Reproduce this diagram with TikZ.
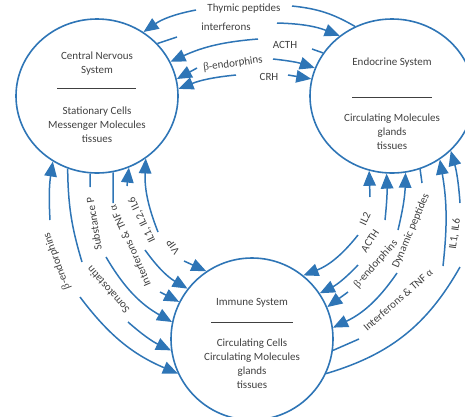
\documentclass[tikz,border=0pt]{standalone}
\usepackage{fontspec}
\setmainfont{Carlito}
\newfontfamily\grk{Liberation Serif}
\usetikzlibrary{arrows.meta,shapes.geometric}
\definecolor{arrowblue}{RGB}{46,117,182}
\definecolor{txt}{RGB}{64,64,64}
\begin{document}
\begin{tikzpicture}[x=1pt,y=-1pt,
  sys/.style={ellipse, draw=arrowblue, line width=1.6pt, inner sep=0pt},
  conn/.style={draw=arrowblue, line width=1.5pt},
  arr/.style={conn, -{Triangle[length=15pt,width=12.5pt]}},
  lbl/.style={text=txt, font=\fontsize{11}{13}\selectfont, inner sep=1pt},
  body/.style={text=txt, font=\fontsize{11}{14}\selectfont, align=center},
  sepline/.style={draw=txt, line width=0.8pt}
]
\useasboundingbox (0,0) rectangle (465,416);

% systems
\node[sys, minimum width=162pt, minimum height=154pt] (cns) at (97,96) {};
\node[sys, minimum width=164pt, minimum height=154pt] (endo) at (392,96) {};
\node[sys, minimum width=162pt, minimum height=162pt] (imm) at (252,339) {};

\node[body] (cnsT) at (97,64) {Central Nervous\\System};
\draw[sepline] (57,88) -- (136,88);
\node[body] (cnsB) at (97,125) {Stationary Cells\\Messenger Molecules\\tissues};

\node[body] (endoT) at (392,63) {Endocrine System};
\draw[sepline] (352,97) -- (432,97);
\node[body] (endoB) at (392,132) {Circulating Molecules\\glands\\tissues};

\node[body] (immT) at (252,303) {Immune System};
\draw[sepline] (211,322) -- (293,322);
\node[body] (immB) at (252,364) {Circulating Cells\\Circulating Molecules\\glands\\tissues};

% ---------- top: CNS <-> Endocrine ----------
\node[lbl] (lT1) at (244,9) {Thymic peptides};
\coordinate (T1a) at (196,10); \coordinate (T1b) at (292,6);
\draw[arr] (T1a) to[bend right=12] (cns.54);
\draw[conn] (T1b) to[bend left=12] (endo.118);

\node[lbl] (lT2) at (226,27) {interferons};
\coordinate (T2a) at (177,37); \coordinate (T2b) at (277,23);
\draw[conn] (cns.41) -- (T2a);
\draw[arr] (T2b) to[bend left=10] (endo.131);

\node[lbl] (lT3) at (285,45) {ACTH};
\coordinate (T3a) at (258,39); \coordinate (T3b) at (312,49);
\draw[arr] (T3a) to[bend right=10] (cns.25);
\draw[conn] (T3b) -- (endo.148);

\node[lbl, rotate=8] (lT4) at (233,64) {{\grk β}-endorphins};
\coordinate (T4a) at (197,68); \coordinate (T4b) at (273,59);
\draw[arr] (T4a) -- (cns.12);
\draw[arr] (T4b) to[bend left=6] (endo.160);

\node[lbl] (lT5) at (269,77) {CRH};
\coordinate (T5a) at (236,75); \coordinate (T5b) at (288,75);
\draw[arr] (T5a) to[bend right=8] (cns.5);
\draw[arr] (T5b) -- (endo.168);

% ---------- bottom left: CNS <-> Immune ----------
\node[lbl, rotate=110] (lL1) at (57,261) {{\grk β}-endorphins};
\coordinate (L1a) at (50,220); \coordinate (L1b) at (80,297);
\draw[arr] (L1a) to[bend left=6] (cns.-124);
\draw[arr] (L1b) to[bend right=15] (imm.205);

\node[lbl, rotate=131] (lL2) at (108,290) {Somatostatin};
\coordinate (L2a) at (82,262); \coordinate (L2b) at (128,322);
\draw[conn] (cns.-112) to[bend right=8] (L2a);
\draw[arr] (L2b) to[bend right=8] (imm.188);

\node[lbl, rotate=99] (lL3) at (94,224) {Substance P};
\coordinate (L3a) at (90,187); \coordinate (L3b) at (106,257);
\draw[conn] (cns.-95) -- (L3a);
\draw[arr] (L3b) to[bend right=15] (imm.168);

\node[lbl, rotate=114] (lL4) at (130,246) {Interferons \& TNF {\grk α}};
\coordinate (L4a) at (113,203); \coordinate (L4b) at (160,292);
\draw[conn] (cns.-78) -- (L4a);
\draw[arr] (L4b) -- (imm.153);

\node[lbl, rotate=116] (lL5) at (142,220) {IL1, IL2, IL6};
\coordinate (L5a) at (127,186); \coordinate (L5b) at (145,250);
\draw[arr] (L5a) -- (cns.-66);
\draw[arr] (L5b) to[bend right=12] (imm.142);

\node[lbl, rotate=125] (lL6) at (173,247) {VIP};
\coordinate (L6a) at (158,232); \coordinate (L6b) at (184,261);
\draw[arr] (L6a) to[bend left=12] (cns.-52);
\draw[arr] (L6b) -- (imm.124);

% ---------- bottom right: Endocrine <-> Immune ----------
\node[lbl, rotate=65] (lR1) at (365,219) {IL2};
\coordinate (R1a) at (370,197); \coordinate (R1b) at (358,235);
\draw[arr] (R1a) -- (endo.-107);
\draw[arr] (R1b) to[bend left=15] (imm.51);

\node[lbl, rotate=57] (lR2) at (370,241) {ACTH};
\coordinate (R2a) at (385,220); \coordinate (R2b) at (358,265);
\draw[arr] (R2a) to[bend right=4] (endo.-94);
\draw[arr] (R2b) to[bend left=10] (imm.34);

\node[lbl, rotate=48] (lR3) at (376,264) {{\grk β}-endorphins};
\coordinate (R3a) at (398,230); \coordinate (R3b) at (348,292);
\draw[arr] (R3a) to[bend right=6] (endo.-80);
\draw[arr] (R3b) -- (imm.23);

\node[lbl, rotate=67] (lR4) at (411,231) {Dynamic peptides};
\coordinate (R4a) at (422,183); \coordinate (R4b) at (397,273);
\draw[conn] (endo.-69) -- (R4a);
\draw[arr] (R4b) to[bend left=15] (imm.8);

\node[lbl, rotate=41] (lR5) at (398,300) {Interferons \& TNF {\grk α}};
\coordinate (R5a) at (443,266); \coordinate (R5b) at (359,339);
\draw[arr] (R5a) to[bend right=8] (endo.-53);
\draw[conn] (imm.-8) -- (R5b);

\node[lbl, rotate=82] (lR6) at (455,234) {IL1, IL6};
\coordinate (R6a) at (460,203); \coordinate (R6b) at (460,267);
\draw[arr] (R6a) to[bend right=6] (endo.-43);
\draw[conn] (imm.-25) to[bend right=22] (R6b);
\end{tikzpicture}
\end{document}
